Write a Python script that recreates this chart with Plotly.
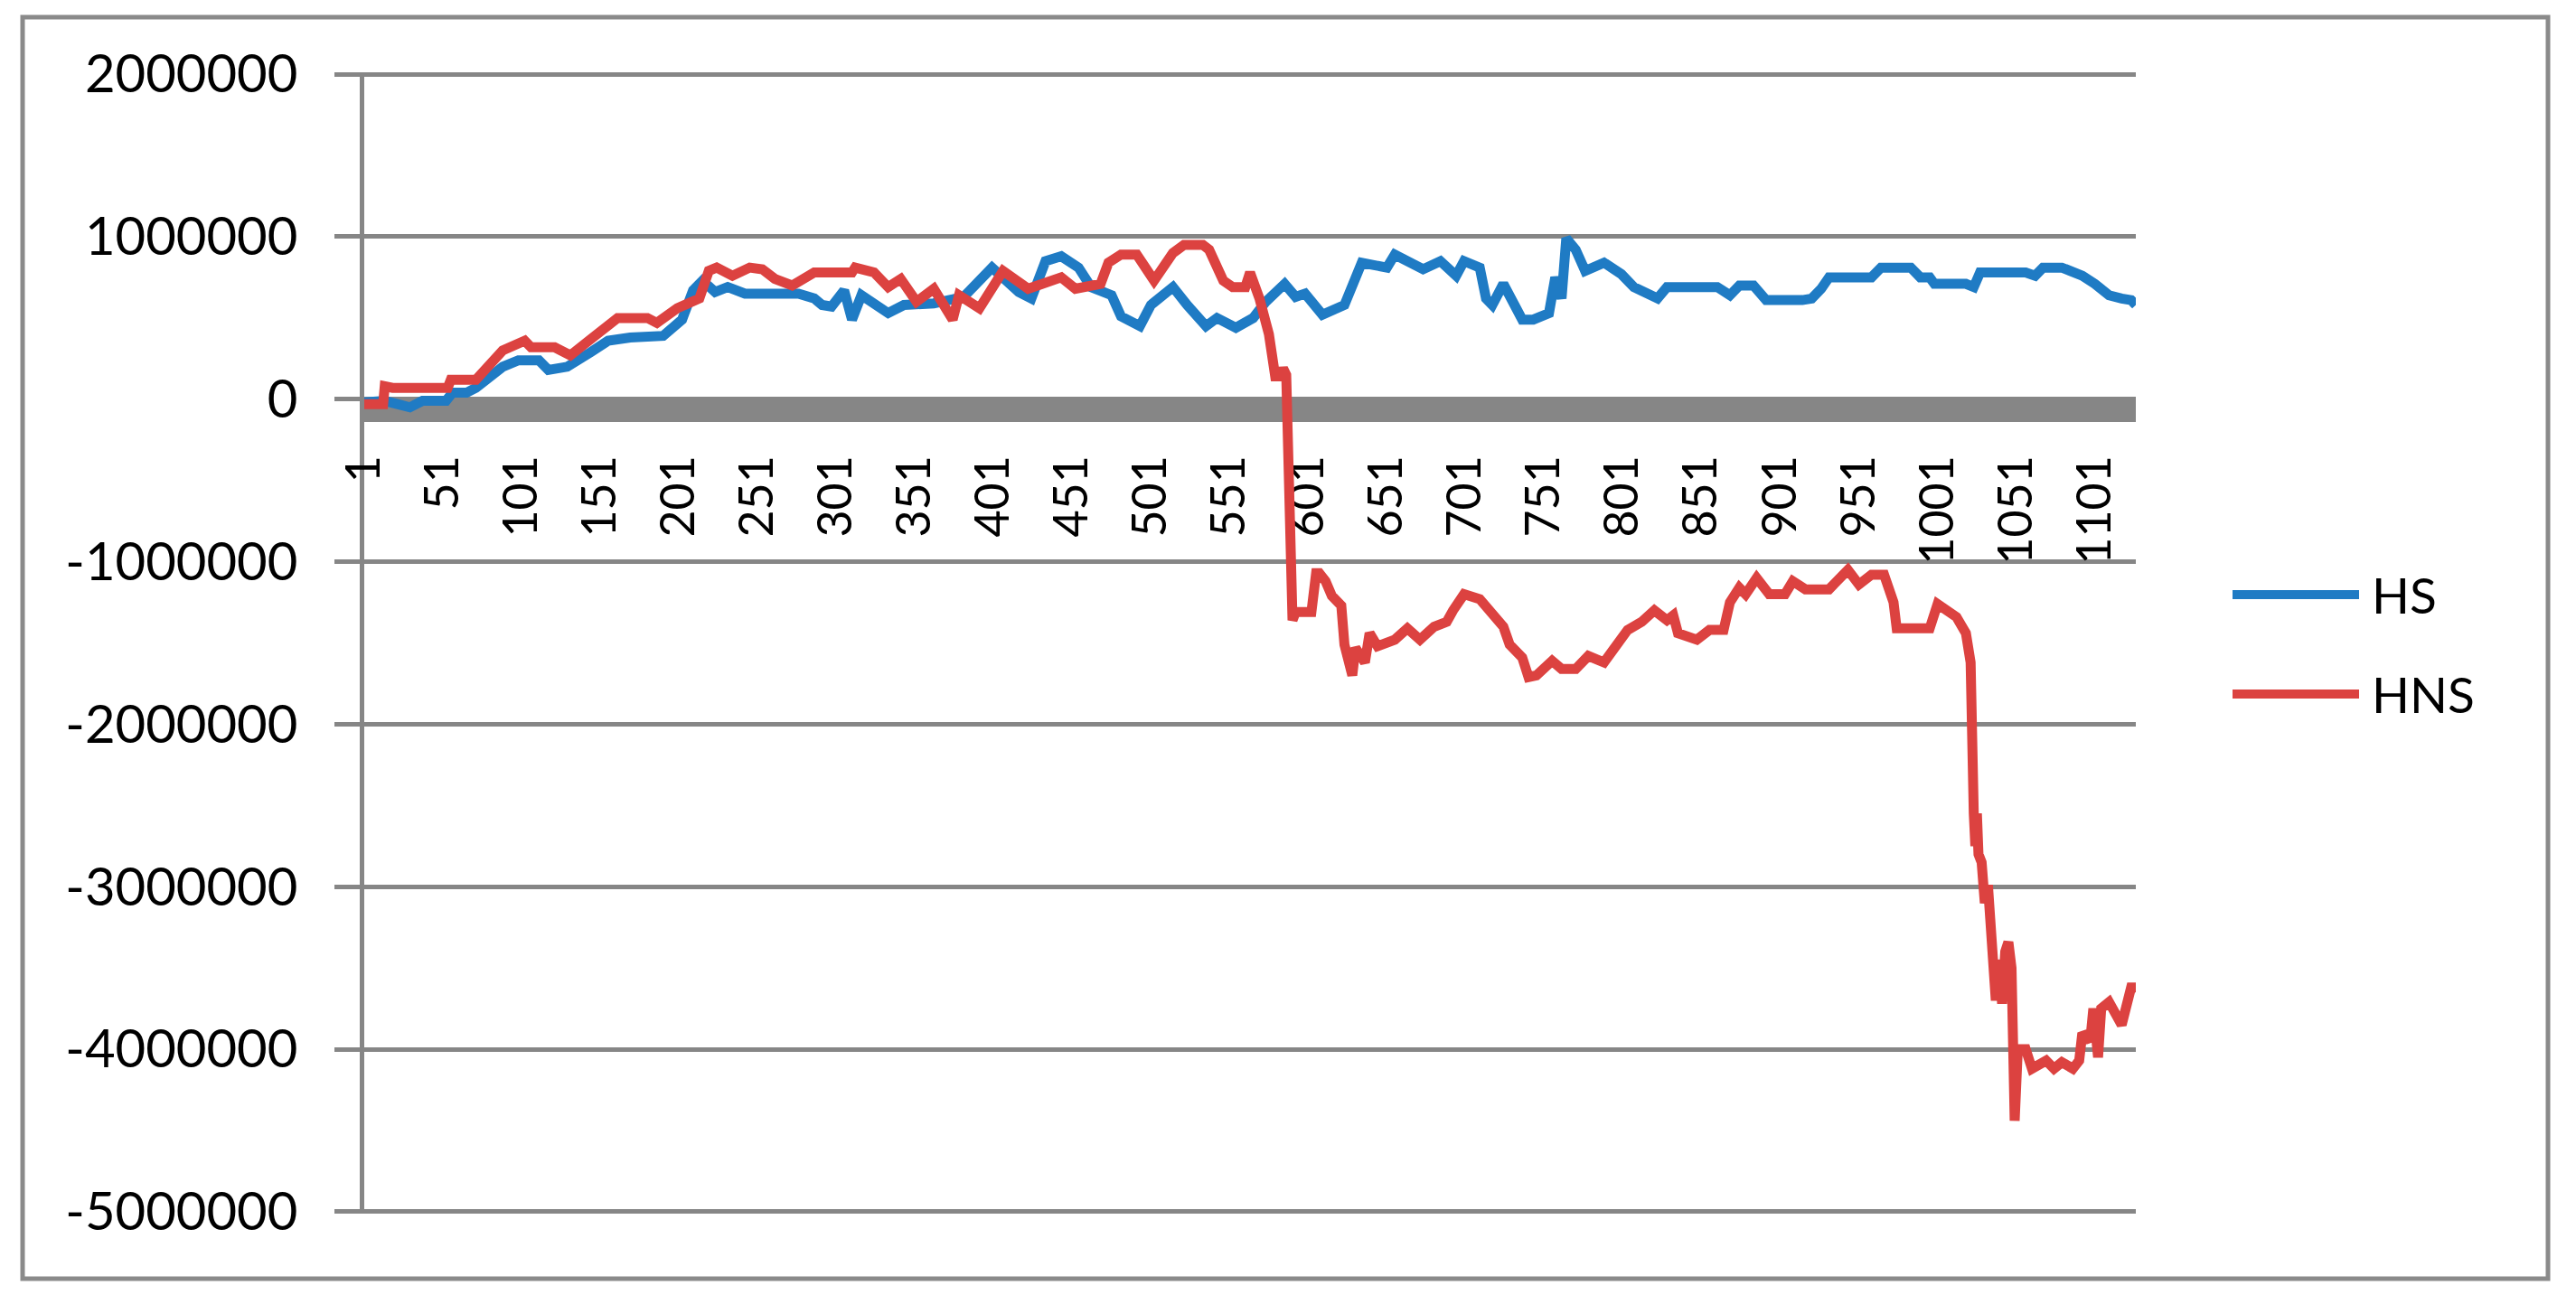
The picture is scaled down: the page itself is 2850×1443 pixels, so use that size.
import plotly.graph_objects as go

# ---- data ----
hs_idx = [1, 14, 22, 30, 38, 53, 57, 66, 72, 89, 99, 112, 118, 130, 145, 156, 170, 180, 191, 203,
          210, 216, 224, 232, 243, 260, 277, 287, 292, 298, 306, 311, 317, 334, 344, 363, 382, 400,
          417, 425, 434, 444, 455, 463, 476, 482, 494, 501, 515, 524, 536, 543, 555, 566, 574, 586,
          593, 599, 610, 624, 630, 635, 651, 656, 674, 685, 695, 700, 710, 714, 718, 725, 737, 744,
          754, 758, 762, 765, 771, 777, 789, 800, 808, 823, 829, 850, 861, 869, 875, 884, 892, 915,
          921, 927, 932, 959, 965, 984, 990, 996, 999, 1019, 1024, 1028, 1057, 1063, 1068, 1080,
          1086, 1093, 1101, 1110, 1118, 1124, 1127]
hs_val = [-20000, -10000, -30000, -50000, -10000, -10000, 40000, 40000, 70000, 200000, 240000,
          240000, 180000, 200000, 290000, 360000, 380000, 390000, 390000, 490000, 670000, 730000,
          660000, 690000, 650000, 650000, 650000, 620000, 580000, 570000, 670000, 490000, 640000,
          530000, 580000, 590000, 630000, 810000, 660000, 620000, 850000, 880000, 810000, 690000,
          640000, 510000, 450000, 580000, 690000, 580000, 450000, 500000, 440000, 500000, 600000,
          710000, 630000, 650000, 520000, 580000, 730000, 840000, 810000, 890000, 800000, 850000,
          760000, 850000, 810000, 620000, 580000, 710000, 490000, 490000, 530000, 750000, 620000,
          990000, 920000, 790000, 840000, 770000, 690000, 620000, 690000, 690000, 690000, 640000,
          700000, 700000, 610000, 610000, 620000, 680000, 750000, 750000, 810000, 810000, 750000,
          750000, 710000, 710000, 690000, 780000, 780000, 760000, 810000, 810000, 790000, 760000,
          710000, 640000, 620000, 610000, 580000]

hns_idx = [1, 13, 14, 19, 54, 56, 72, 89, 103, 107, 122, 132, 145, 162, 181, 187, 200, 214, 220,
           225, 235, 246, 254, 262, 273, 287, 311, 313, 325, 334, 342, 352, 363, 375, 379, 392, 407,
           423, 444, 453, 469, 474, 482, 492, 503, 515, 522, 534, 538, 547, 553, 561, 564, 570, 576,
           580, 583, 585, 587, 591, 593, 603, 606, 608, 612, 616, 622, 624, 629, 631, 637, 640, 645,
           656, 664, 672, 681, 689, 693, 700, 710, 718, 725, 729, 737, 741, 746, 756, 762, 771, 779,
           789, 796, 804, 813, 821, 829, 833, 836, 848, 856, 865, 869, 875, 879, 886, 894, 904, 909,
           917, 932, 944, 951, 959, 967, 973, 975, 996, 1001, 1013, 1019, 1022, 1024, 1025, 1026,
           1027, 1029, 1031, 1033, 1035, 1036, 1038, 1040, 1042, 1044, 1046, 1048, 1050, 1052, 1057,
           1061, 1070, 1075, 1080, 1087, 1091, 1093, 1098, 1100, 1103, 1105, 1110, 1118, 1121, 1124,
           1127]
hns_val = [-30000, -30000, 80000, 70000, 70000, 120000, 120000, 300000, 360000, 320000, 320000,
           270000, 370000, 500000, 500000, 470000, 560000, 620000, 790000, 810000, 760000, 810000,
           800000, 740000, 700000, 780000, 780000, 810000, 780000, 690000, 740000, 600000, 680000,
           490000, 640000, 560000, 790000, 680000, 750000, 680000, 710000, 840000, 890000, 890000,
           730000, 900000, 950000, 950000, 920000, 730000, 690000, 690000, 780000, 620000, 400000,
           140000, 140000, 190000, 150000, -1360000, -1310000, -1310000, -1070000, -1070000,
           -1120000, -1210000, -1270000, -1510000, -1700000, -1530000, -1620000, -1440000,
           -1520000, -1480000, -1410000, -1480000, -1400000, -1370000, -1300000, -1200000,
           -1230000, -1320000, -1400000, -1510000, -1590000, -1710000, -1700000, -1610000,
           -1660000, -1660000, -1580000, -1620000, -1530000, -1420000, -1370000, -1300000,
           -1360000, -1330000, -1440000, -1480000, -1420000, -1420000, -1250000, -1160000,
           -1200000, -1100000, -1200000, -1200000, -1120000, -1170000, -1170000, -1050000,
           -1140000, -1080000, -1080000, -1250000, -1410000, -1410000, -1260000, -1340000,
           -1440000, -1620000, -2550000, -2750000, -2550000, -2800000, -2850000, -3100000,
           -2990000, -3300000, -3400000, -3700000, -3450000, -3720000, -3400000, -3340000,
           -3500000, -4440000, -4000000, -4000000, -4120000, -4070000, -4120000, -4080000,
           -4120000, -4070000, -3900000, -3950000, -3750000, -4050000, -3750000, -3710000,
           -3850000, -3750000, -3620000, -3620000]

x_tick_vals = list(range(1, 1102, 50))
x_tick_text = [str(v) for v in x_tick_vals]
y_tick_vals = [2000000, 1000000, 0, -1000000, -2000000, -3000000, -4000000, -5000000]
y_tick_text = ["2000000", "1000000", "0", "-1000000", "-2000000", "-3000000", "-4000000", "-5000000"]
series_names = ["HS", "HNS"]

# ---- style ----
BLUE = "#1f7bc4"
RED = "#dc4240"
GRAY = "#868686"
FONT = "Lato"
W, H = 2850, 1443
L, R, T, B = 403, 487, 80, 100
PW, PH = W - L - R, H - T - B
BAND = 25  # thickness of the category axis band (px)


def px_to_paper(px, py):
    return (px - L) / PW, (H - B - py) / PH


fig = go.Figure()
fig.add_trace(go.Scatter(x=hs_idx, y=hs_val, mode="lines", name=series_names[0],
                         line=dict(color=BLUE, width=11), showlegend=False))
fig.add_trace(go.Scatter(x=hns_idx, y=hns_val, mode="lines", name=series_names[1],
                         line=dict(color=RED, width=11), showlegend=False))

pad = 12000  # small padding so the edge gridlines are drawn
ymin, ymax = y_tick_vals[-1] - pad, y_tick_vals[0] + pad
zero_pos = (0 - ymin) / (ymax - ymin) - (BAND / 2) / PH

fig.update_layout(
    width=W, height=H,
    margin=dict(l=L, r=R, t=T, b=B, autoexpand=False),
    paper_bgcolor="white", plot_bgcolor="white",
    font=dict(family=FONT, color="black"),
    xaxis=dict(
        range=[1, 1127], anchor="free", position=zero_pos,
        tickmode="array", tickvals=x_tick_vals, ticktext=x_tick_text,
        tickangle=-90, tickfont=dict(size=52, family=FONT),
        showgrid=False, zeroline=False, ticks="",
        showline=True, linewidth=BAND, linecolor=GRAY,
        layer="below traces", ticklabelstandoff=16,
    ),
    yaxis=dict(
        range=[ymin, ymax],
        tickmode="array", tickvals=y_tick_vals, ticktext=y_tick_text,
        tickfont=dict(size=58, family=FONT),
        showgrid=True, gridcolor=GRAY, gridwidth=5, zeroline=False,
        ticks="outside", ticklen=28, tickwidth=5, tickcolor=GRAY,
        showline=True, linewidth=5, linecolor=GRAY,
        layer="below traces", ticklabelstandoff=29,
    ),
)

# outer chart border
bx0, by0 = px_to_paper(25, 1415)
bx1, by1 = px_to_paper(2819, 19)
fig.add_shape(type="rect", xref="paper", yref="paper", x0=bx0, y0=by0, x1=bx1, y1=by1,
              line=dict(color="#8a8a8a", width=5), layer="below")

# legend
for name, color, py in [(series_names[0], BLUE, 658), (series_names[1], RED, 768)]:
    lx0, ly = px_to_paper(2470, py)
    lx1, _ = px_to_paper(2610, py)
    tx, _ = px_to_paper(2622, py)
    fig.add_shape(type="line", xref="paper", yref="paper", x0=lx0, x1=lx1, y0=ly, y1=ly,
                  line=dict(color=color, width=10))
    fig.add_annotation(xref="paper", yref="paper", x=tx, y=ly, text=name, showarrow=False,
                       xanchor="left", yanchor="middle", font=dict(size=55, family=FONT, color="black"))

fig.write_html("out.html", config={"displayModeBar": False},
               post_script="document.body.style.margin='0';")
